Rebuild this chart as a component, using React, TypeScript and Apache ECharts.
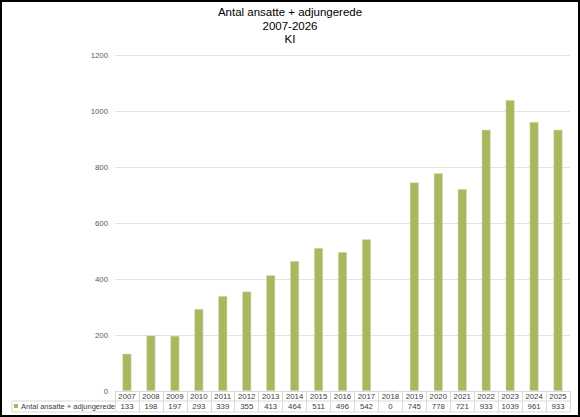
import { useEffect, useRef } from 'react';
import * as echarts from 'echarts';

const years = [
  '2007', '2008', '2009', '2010', '2011', '2012', '2013', '2014', '2015', '2016',
  '2017', '2018', '2019', '2020', '2021', '2022', '2023', '2024', '2025',
];
const staff = [133, 198, 197, 293, 339, 355, 413, 464, 511, 496, 542, 0, 745, 778, 721, 933, 1039, 961, 933];
const seriesName = 'Antal ansatte + adjungerede';
const titleLines = ['Antal ansatte + adjungerede', '2007-2026', 'KI'];

const FONT = '"Liberation Sans", Arial, sans-serif';
const TABLE_LINE = '#d9d9d9';

export default function App() {
  const chartRef = useRef<HTMLDivElement>(null);

  useEffect(() => {
    document.body.style.margin = '0';
    if (!chartRef.current) return;
    const chart = echarts.init(chartRef.current, undefined, { renderer: 'svg' });

    const gridLeft = 115;
    const gridRight = 10;
    const gridBottom = 26;
    const W = 580;
    const H = 417;
    const axisY = H - gridBottom;
    const rightX = W - gridRight;

    const option: echarts.EChartsOption = {
      animation: false,
      backgroundColor: '#fff',
      title: titleLines.map((t, i) => ({
        text: t,
        left: 'center',
        top: 6 + i * 13.5,
        padding: 0,
        textStyle: {
          fontFamily: FONT,
          fontSize: 11.5,
          fontWeight: 'normal' as const,
          color: '#000',
        },
      })),
      legend: {
        data: [seriesName],
        left: 14,
        top: 402,
        padding: 0,
        icon: 'rect',
        itemWidth: 4,
        itemHeight: 4,
        itemStyle: { borderWidth: 0 },
        textStyle: { fontFamily: FONT, fontSize: 7.5, color: '#404040', padding: [0, 0, 0, -2] },
      },
      grid: { left: gridLeft, right: gridRight, top: 55, bottom: gridBottom, containLabel: false },
      xAxis: {
        type: 'category',
        data: years,
        axisLine: { show: true, lineStyle: { color: TABLE_LINE, width: 1 } },
        axisTick: { show: true, length: 21, lineStyle: { color: TABLE_LINE } },
        axisLabel: {
          margin: 0,
          interval: 0,
          formatter: (v: string, i: number) => `{y|${v}}\n{v|${staff[i]}}`,
          rich: {
            y: { fontFamily: FONT, fontSize: 7.8, color: '#404040', lineHeight: 10.5 },
            v: { fontFamily: FONT, fontSize: 7.8, color: '#404040', lineHeight: 10.5 },
          },
        },
      },
      yAxis: {
        type: 'value',
        min: 0,
        max: 1200,
        interval: 200,
        axisLine: { show: false },
        axisTick: { show: false },
        axisLabel: {
          fontFamily: FONT,
          fontSize: 7.8,
          color: '#595959',
          margin: 7,
          formatter: (v: number) => String(v),
        },
        splitLine: { lineStyle: { color: '#e4e4e4', width: 1 } },
      },
      graphic: [
        { type: 'line', shape: { x1: 12, y1: axisY + 10, x2: rightX, y2: axisY + 10 }, style: { stroke: TABLE_LINE, lineWidth: 1 } },
        { type: 'line', shape: { x1: 12, y1: axisY + 21, x2: rightX, y2: axisY + 21 }, style: { stroke: TABLE_LINE, lineWidth: 1 } },
        { type: 'line', shape: { x1: 12, y1: axisY + 10, x2: 12, y2: axisY + 21 }, style: { stroke: TABLE_LINE, lineWidth: 1 } },
      ],
      series: [
        {
          name: seriesName,
          type: 'bar',
          data: staff,
          barWidth: 9,
          itemStyle: { color: '#a9b85e', borderColor: '#dfe6c2', borderWidth: 0.5 },
        },
      ],
    };

    chart.setOption(option);
    return () => {
      chart.dispose();
    };
  }, []);

  return (
    <div style={{ position: 'relative', width: 580, height: 417 }}>
      <div ref={chartRef} style={{ position: 'absolute', left: 0, top: 0, width: 580, height: 417 }} />
      <div
        style={{
          position: 'absolute',
          left: 0,
          top: 0,
          width: 580,
          height: 417,
          boxSizing: 'border-box',
          border: '2px solid #000',
          pointerEvents: 'none',
        }}
      />
    </div>
  );
}
